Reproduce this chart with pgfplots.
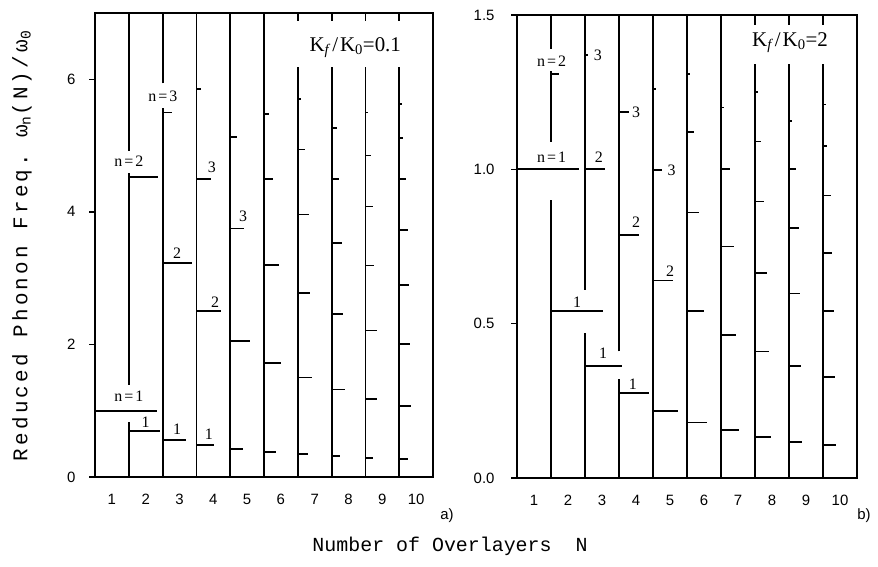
\documentclass[border=0pt]{standalone}
\usepackage{pgfplots}
\pgfplotsset{compat=1.18}
\usepackage{fontspec}
\setmainfont{Liberation Serif}
\newfontfamily\tickfont{Liberation Sans}
\newfontfamily\labfont{Liberation Mono}
\newfontfamily\ylabfont[LetterSpace=16]{Liberation Mono}
\newcommand\lvl{\fontsize{16}{16}\selectfont}
\newcommand\nlab[1]{{\lvl n\kern2pt=\kern2pt#1}}
\newcommand\kfont{\fontsize{21}{21}\selectfont}

\pgfplotsset{
  panel/.style={
    scale only axis, anchor=south west,
    xmin=0.5, xmax=10.5, ymin=0,
    xtick={1,2,...,10},
    xticklabels={1,2,3,4,5,6,7,8,9,10},
    xtick style={draw=none},
    ytick pos=left,
    tick align=outside,
    major tick length=6bp,
    every tick/.style={black, line width=1.4bp},
    axis line style={line width=1.6bp},
    ticklabel style={font=\tickfont\fontsize{15}{15}\selectfont},
    xticklabel style={yshift=-8bp},
    unbounded coords=jump,
    clip=false,
  },
  lev/.style={black, line width=1.8bp},
}

\begin{document}
\begin{tikzpicture}
\path[use as bounding box] (0bp,0bp) rectangle (878bp,567bp);

% ---------------- panel a): K_f/K_0 = 0.1 ----------------
\begin{axis}[panel, at={(95bp,90bp)}, width=338bp, height=464bp,
  ymax=7, ytick={0,2,4,6}, yticklabels={0,2,4,6},
  yticklabel style={xshift=-10bp}]
% vertical lines, one per overlayer count N (gaps leave room for labels)
\addplot[lev] coordinates {
 (1.5,0) (1.5,0.83) (1.5,nan) (1.5,1.39) (1.5,4.59) (1.5,nan) (1.5,4.92) (1.5,7) (1.5,nan)
 (2.5,0) (2.5,5.57) (2.5,nan) (2.5,5.94) (2.5,7) (2.5,nan)
 (3.5,0) (3.5,7) (3.5,nan)
 (4.5,0) (4.5,7) (4.5,nan)
 (5.5,0) (5.5,7) (5.5,nan)
 (6.5,0) (6.5,6.18) (6.5,nan) (6.5,6.88) (6.5,7) (6.5,nan)
 (7.5,0) (7.5,6.18) (7.5,nan) (7.5,6.88) (7.5,7) (7.5,nan)
 (8.5,0) (8.5,6.18) (8.5,nan) (8.5,6.88) (8.5,7) (8.5,nan)
 (9.5,0) (9.5,6.18) (9.5,nan) (9.5,6.88) (9.5,7)
};
% phonon levels omega_n(N)/omega_0
\addplot[lev] coordinates {
 (0.5,1.00) (2.33,1.00) (0.5,nan)
 (1.5,0.69) (2.42,0.69) (1.5,nan)
 (1.5,4.52) (2.36,4.52) (1.5,nan)
 (2.5,0.56) (3.19,0.56) (2.5,nan)
 (2.5,3.23) (3.37,3.23) (2.5,nan)
 (2.5,5.50) (2.77,5.50) (2.5,nan)
 (3.5,0.48) (4.02,0.48) (3.5,nan)
 (3.5,2.51) (4.24,2.51) (3.5,nan)
 (3.5,4.50) (3.94,4.50) (3.5,nan)
 (3.5,5.85) (3.63,5.85) (3.5,nan)
 (4.5,0.42) (4.89,0.42) (4.5,nan)
 (4.5,2.05) (5.09,2.05) (4.5,nan)
 (4.5,3.75) (4.91,3.75) (4.5,nan)
 (4.5,5.13) (4.70,5.13) (4.5,nan)
 (5.5,0.38) (5.85,0.38) (5.5,nan)
 (5.5,1.72) (6.01,1.72) (5.5,nan)
 (5.5,3.20) (5.94,3.20) (5.5,nan)
 (5.5,4.50) (5.78,4.50) (5.5,nan)
 (5.5,5.48) (5.65,5.48) (5.5,nan)
 (6.5,0.35) (6.80,0.35) (6.5,nan)
 (6.5,1.50) (6.92,1.50) (6.5,nan)
 (6.5,2.78) (6.87,2.78) (6.5,nan)
 (6.5,3.96) (6.82,3.96) (6.5,nan)
 (6.5,4.94) (6.72,4.94) (6.5,nan)
 (6.5,5.70) (6.60,5.70) (6.5,nan)
 (7.5,0.32) (7.76,0.32) (7.5,nan)
 (7.5,1.32) (7.89,1.32) (7.5,nan)
 (7.5,2.46) (7.85,2.46) (7.5,nan)
 (7.5,3.53) (7.82,3.53) (7.5,nan)
 (7.5,4.49) (7.72,4.49) (7.5,nan)
 (7.5,5.26) (7.65,5.26) (7.5,nan)
 (8.5,0.29) (8.73,0.29) (8.5,nan)
 (8.5,1.18) (8.85,1.18) (8.5,nan)
 (8.5,2.21) (8.83,2.21) (8.5,nan)
 (8.5,3.19) (8.76,3.19) (8.5,nan)
 (8.5,4.08) (8.73,4.08) (8.5,nan)
 (8.5,4.85) (8.66,4.85) (8.5,nan)
 (8.5,5.50) (8.58,5.50) (8.5,nan)
 (9.5,0.27) (9.75,0.27) (9.5,nan)
 (9.5,1.07) (9.85,1.07) (9.5,nan)
 (9.5,2.01) (9.82,2.01) (9.5,nan)
 (9.5,2.90) (9.80,2.90) (9.5,nan)
 (9.5,3.73) (9.75,3.73) (9.5,nan)
 (9.5,4.49) (9.70,4.49) (9.5,nan)
 (9.5,5.12) (9.62,5.12) (9.5,nan)
 (9.5,5.63) (9.58,5.63)
};
\node at (axis cs:1.5,1.22) {\nlab{1}};
\node at (axis cs:1.5,4.76) {\nlab{2}};
\node at (axis cs:2.51,5.74) {\nlab{3}};
\node at (axis cs:2.0,0.83) {\lvl 1};
\node at (axis cs:2.93,0.72) {\lvl 1};
\node at (axis cs:2.93,3.38) {\lvl 2};
\node at (axis cs:3.87,0.65) {\lvl 1};
\node at (axis cs:4.05,2.64) {\lvl 2};
\node at (axis cs:3.96,4.67) {\lvl 3};
\node at (axis cs:4.88,3.94) {\lvl 3};
\node at (axis cs:8.2,6.48) {\kfont K\textsubscript{\itshape f}\kern3pt/\kern2pt K\textsubscript{0}=0.1};
\end{axis}

% ---------------- panel b): K_f/K_0 = 2 ----------------
\begin{axis}[panel, at={(517bp,89bp)}, width=340bp, height=463bp,
  ymax=1.5, ytick={0,0.5,1,1.5}, yticklabels={0.0,0.5,1.0,1.5},
  yticklabel style={xshift=-13bp}]
\addplot[lev] coordinates {
 (1.5,0) (1.5,0.90) (1.5,nan) (1.5,1.09) (1.5,1.32) (1.5,nan) (1.5,1.39) (1.5,1.5) (1.5,nan)
 (2.5,0) (2.5,0.47) (2.5,nan) (2.5,0.61) (2.5,1.5) (2.5,nan)
 (3.5,0) (3.5,0.32) (3.5,nan) (3.5,0.41) (3.5,1.5) (3.5,nan)
 (4.5,0) (4.5,1.5) (4.5,nan)
 (5.5,0) (5.5,1.5) (5.5,nan)
 (6.5,0) (6.5,1.5) (6.5,nan)
 (7.5,0) (7.5,1.34) (7.5,nan) (7.5,1.468) (7.5,1.5) (7.5,nan)
 (8.5,0) (8.5,1.34) (8.5,nan) (8.5,1.468) (8.5,1.5) (8.5,nan)
 (9.5,0) (9.5,1.34) (9.5,nan) (9.5,1.468) (9.5,1.5)
};
\addplot[lev] coordinates {
 (0.5,1.00) (2.32,1.00) (0.5,nan)
 (1.5,0.54) (3.02,0.54) (1.5,nan)
 (1.5,1.31) (1.74,1.31) (1.5,nan)
 (2.5,0.364) (3.60,0.364) (2.5,nan)
 (2.5,1.00) (3.09,1.00) (2.5,nan)
 (2.5,1.37) (2.60,1.37) (2.5,nan)
 (3.5,0.276) (4.38,0.276) (3.5,nan)
 (3.5,0.786) (4.10,0.786) (3.5,nan)
 (3.5,1.185) (3.79,1.185) (3.5,nan)
 (4.5,0.218) (5.23,0.218) (4.5,nan)
 (4.5,0.64) (5.08,0.64) (4.5,nan)
 (4.5,0.997) (4.75,0.997) (4.5,nan)
 (4.5,1.26) (4.60,1.26) (4.5,nan)
 (5.5,0.18) (6.09,0.18) (5.5,nan)
 (5.5,0.54) (5.99,0.54) (5.5,nan)
 (5.5,0.86) (5.84,0.86) (5.5,nan)
 (5.5,1.12) (5.70,1.12) (5.5,nan)
 (5.5,1.31) (5.58,1.31) (5.5,nan)
 (6.5,0.156) (7.02,0.156) (6.5,nan)
 (6.5,0.464) (6.95,0.464) (6.5,nan)
 (6.5,0.75) (6.87,0.75) (6.5,nan)
 (6.5,1.00) (6.75,1.00) (6.5,nan)
 (6.5,1.20) (6.60,1.20) (6.5,nan)
 (7.5,0.134) (7.96,0.134) (7.5,nan)
 (7.5,0.41) (7.91,0.41) (7.5,nan)
 (7.5,0.665) (7.84,0.665) (7.5,nan)
 (7.5,0.896) (7.76,0.896) (7.5,nan)
 (7.5,1.09) (7.68,1.09) (7.5,nan)
 (7.5,1.25) (7.58,1.25) (7.5,nan)
 (8.5,0.117) (8.89,0.117) (8.5,nan)
 (8.5,0.364) (8.86,0.364) (8.5,nan)
 (8.5,0.598) (8.82,0.598) (8.5,nan)
 (8.5,0.81) (8.79,0.81) (8.5,nan)
 (8.5,1.00) (8.70,1.00) (8.5,nan)
 (8.5,1.156) (8.58,1.156) (8.5,nan)
 (9.5,0.107) (9.89,0.107) (9.5,nan)
 (9.5,0.328) (9.86,0.328) (9.5,nan)
 (9.5,0.54) (9.82,0.54) (9.5,nan)
 (9.5,0.73) (9.76,0.73) (9.5,nan)
 (9.5,0.915) (9.74,0.915) (9.5,nan)
 (9.5,1.075) (9.63,1.075) (9.5,nan)
 (9.5,1.21) (9.58,1.21)
};
\node at (axis cs:1.52,1.35) {\nlab{2}};
\node at (axis cs:1.52,1.04) {\nlab{1}};
\node at (axis cs:2.27,0.57) {\lvl 1};
\node at (axis cs:2.88,1.37) {\lvl 3};
\node at (axis cs:2.91,1.04) {\lvl 2};
\node at (axis cs:3.03,0.405) {\lvl 1};
\node at (axis cs:3.91,0.305) {\lvl 1};
\node at (axis cs:4.00,0.83) {\lvl 2};
\node at (axis cs:4.00,1.185) {\lvl 3};
\node at (axis cs:5.00,0.67) {\lvl 2};
\node at (axis cs:5.05,0.997) {\lvl 3};
\node at (axis cs:8.53,1.41) {\kfont K\textsubscript{\itshape f}\kern3pt/\kern2pt K\textsubscript{0}=2};
\end{axis}

% panel tags and shared axis titles
\node[font=\tickfont\fontsize{15}{15}\selectfont] at (447bp,51bp) {a)};
\node[font=\tickfont\fontsize{15}{15}\selectfont] at (864bp,51bp) {b)};
\node[font=\labfont\fontsize{20}{20}\selectfont] at (450bp,21bp) {Number of Overlayers\ \ N};
\node[font=\ylabfont\fontsize{21}{21}\selectfont, rotate=90] at (22bp,321bp)
  {Reduced Phonon Freq.\ ω\textsubscript{n}(N)/ω\textsubscript{0}};
\end{tikzpicture}
\end{document}
